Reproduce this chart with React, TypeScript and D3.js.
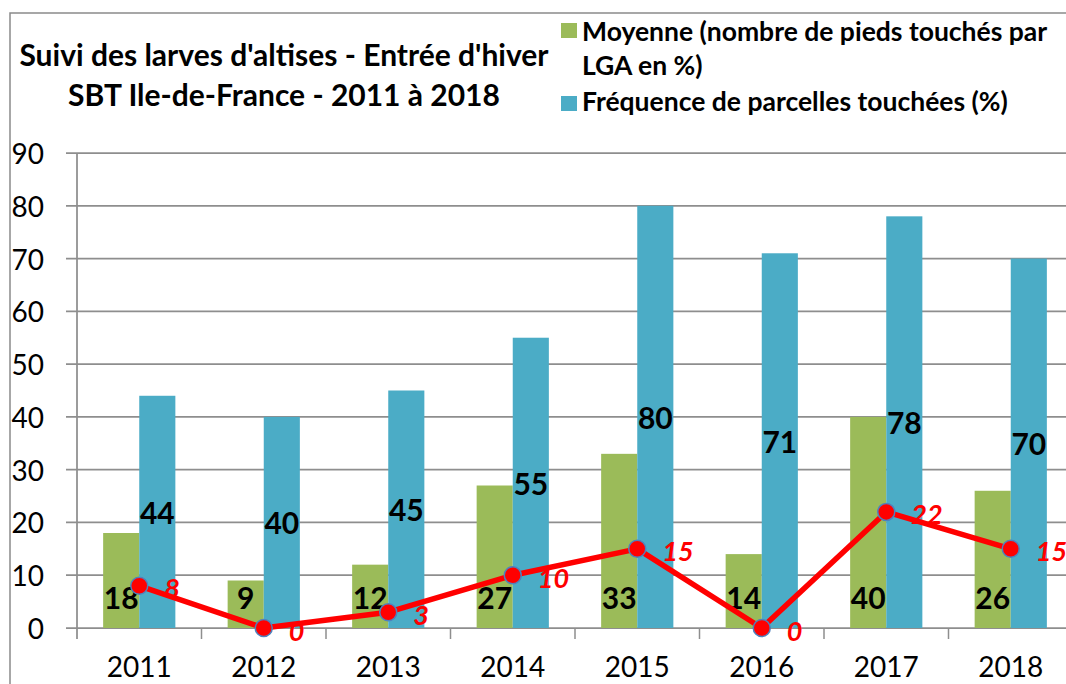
import React from "react";
import * as d3 from "d3";

const years = ["2011", "2012", "2013", "2014", "2015", "2016", "2017", "2018"];
const moyenne = [18, 9, 12, 27, 33, 14, 40, 26];
const frequence = [44, 40, 45, 55, 80, 71, 78, 70];
const lineValues = [8, 0, 3, 10, 15, 0, 22, 15];
const yTicks = [0, 10, 20, 30, 40, 50, 60, 70, 80, 90];
const titleLines = ["Suivi des larves d'altises - Entrée d'hiver", "SBT Ile-de-France - 2011 à 2018"];
const legendMoyenne = ["Moyenne (nombre de pieds touchés par", "LGA en %)"];
const legendFrequence = "Fréquence de parcelles touchées (%)";

const W = 1066;
const H = 684;
const FONT = "Lato, 'Open Sans', sans-serif";
const GREEN = "#9BBB59";
const BLUE = "#4BACC6";
const RED = "#FF0000";
const GRID = "#8E8E8E";

export default function App() {
  const left = 77;
  const right = 1073;
  const y = d3.scaleLinear().domain([0, 90]).range([628, 153]);
  const x = d3.scaleBand<string>().domain(years).range([left, right]).padding(0);
  const bw = x.bandwidth();
  const gw = bw * 0.58;
  const x1 = d3
    .scaleBand<string>()
    .domain(["m", "f"])
    .range([(bw - gw) / 2, (bw + gw) / 2])
    .padding(0);
  const cx = (i: number) => (x(years[i]) as number) + bw / 2;
  const line = d3
    .line<number>()
    .x((_, i) => cx(i))
    .y((d) => y(d));

  return (
    <svg
      width={W}
      height={H}
      style={{ position: "fixed", left: 0, top: 0, background: "#fff", fontFamily: FONT }}
    >
      {/* outer frame */}
      <path d={`M10,${H} L10,13 L${W},13`} fill="none" stroke="#8a8a8a" strokeWidth={1.5} />

      {/* title */}
      {titleLines.map((t, i) => (
        <text
          key={t}
          x={284}
          y={66 + i * 40}
          textAnchor="middle"
          fontSize={30}
          fontWeight={700}
          fill="#000"
        >
          {t}
        </text>
      ))}

      {/* legend */}
      <rect x={561} y={23} width={16} height={15} fill={GREEN} />
      {legendMoyenne.map((t, i) => (
        <text key={t} x={582} y={41 + i * 34} fontSize={26.5} fontWeight={700} fill="#000">
          {t}
        </text>
      ))}
      <rect x={561} y={96} width={16} height={15} fill={BLUE} />
      <text x={582} y={111} fontSize={26.5} fontWeight={700} fill="#000">
        {legendFrequence}
      </text>

      {/* gridlines & y ticks */}
      {yTicks.map((t) => (
        <g key={t}>
          <line x1={66} x2={right} y1={y(t)} y2={y(t)} stroke={GRID} strokeWidth={1.75} />
          <text
            x={44}
            y={y(t)}
            textAnchor="end"
            dominantBaseline="central"
            fontSize={28}
            fill="#000"
          >
            {t}
          </text>
        </g>
      ))}

      {/* y axis line */}
      <line x1={left} x2={left} y1={y(90)} y2={y(0) + 11} stroke={GRID} strokeWidth={1.75} />

      {/* category ticks */}
      {years.map((yr) => (
        <line
          key={"t" + yr}
          x1={(x(yr) as number) + bw}
          x2={(x(yr) as number) + bw}
          y1={y(0)}
          y2={y(0) + 11}
          stroke={GRID}
          strokeWidth={1.5}
        />
      ))}

      {/* bars */}
      {years.map((yr, i) => (
        <g key={"b" + yr}>
          <rect
            x={(x(yr) as number) + (x1("m") as number)}
            y={y(moyenne[i])}
            width={x1.bandwidth()}
            height={y(0) - y(moyenne[i])}
            fill={GREEN}
          />
          <rect
            x={(x(yr) as number) + (x1("f") as number)}
            y={y(frequence[i])}
            width={x1.bandwidth()}
            height={y(0) - y(frequence[i])}
            fill={BLUE}
          />
        </g>
      ))}

      {/* bar labels */}
      {years.map((yr, i) => (
        <g key={"l" + yr} fontWeight={700} fontSize={30} fill="#000">
          <text
            x={(x(yr) as number) + (x1("m") as number) + x1.bandwidth() / 2}
            y={y(0) - 19}
            textAnchor="middle"
          >
            {moyenne[i]}
          </text>
          <text
            x={(x(yr) as number) + (x1("f") as number) + x1.bandwidth() / 2}
            y={y(frequence[i] / 2)}
            textAnchor="middle"
            dominantBaseline="central"
          >
            {frequence[i]}
          </text>
        </g>
      ))}

      {/* red line */}
      <path d={line(lineValues) || ""} fill="none" stroke={RED} strokeWidth={5.5} strokeLinejoin="round" />
      {lineValues.map((v, i) => (
        <g key={"p" + i}>
          <circle cx={cx(i)} cy={y(v)} r={8.5} fill={RED} stroke="#4F81BD" strokeWidth={1.5} />
          <text
            x={cx(i) + 25}
            y={y(v) + 2}
            dominantBaseline="central"
            fontSize={27}
            fontWeight={700}
            fontStyle="italic"
            fill={RED}
          >
            {v}
          </text>
        </g>
      ))}

      {/* x labels */}
      {years.map((yr) => (
        <text
          key={"x" + yr}
          x={(x(yr) as number) + bw / 2}
          y={677}
          textAnchor="middle"
          fontSize={28}
          fill="#000"
        >
          {yr}
        </text>
      ))}
    </svg>
  );
}
